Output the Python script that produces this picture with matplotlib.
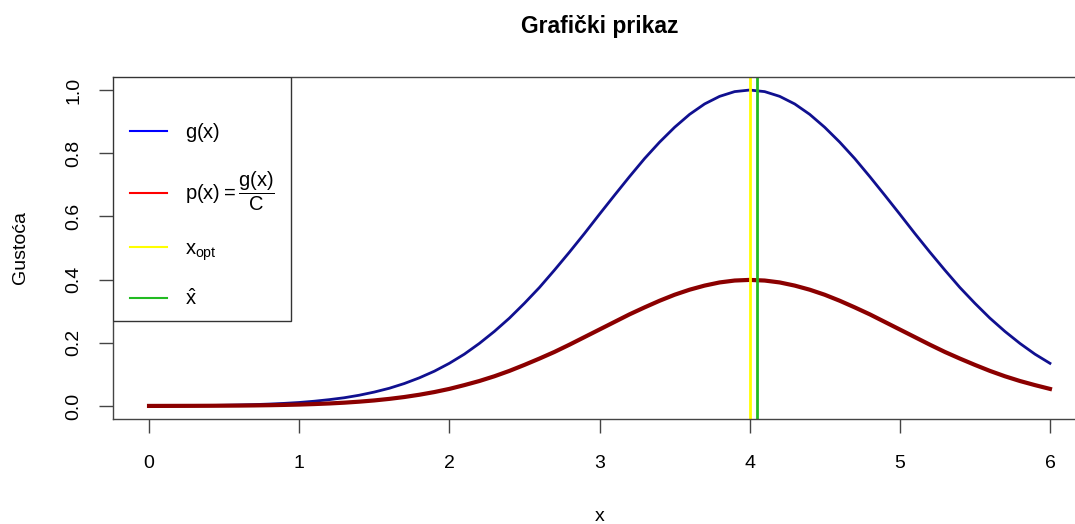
import matplotlib
matplotlib.use("Agg")
import matplotlib.pyplot as plt
from matplotlib.lines import Line2D
from matplotlib.patches import Rectangle

plt.rcParams['font.family'] = ['Liberation Sans', 'DejaVu Sans']
plt.rcParams['mathtext.fontset'] = 'custom'
plt.rcParams['mathtext.rm'] = 'Liberation Sans'
plt.rcParams['mathtext.it'] = 'Liberation Sans'
plt.rcParams['mathtext.bf'] = 'Liberation Sans:bold'

# data
x_vals = [0.0, 0.1, 0.2, 0.3, 0.4, 0.5, 0.6, 0.7, 0.8, 0.9,
          1.0, 1.1, 1.2, 1.3, 1.4, 1.5, 1.6, 1.7, 1.8, 1.9,
          2.0, 2.1, 2.2, 2.3, 2.4, 2.5, 2.6, 2.7, 2.8, 2.9,
          3.0, 3.1, 3.2, 3.3, 3.4, 3.5, 3.6, 3.7, 3.8, 3.9,
          4.0, 4.1, 4.2, 4.3, 4.4, 4.5, 4.6, 4.7, 4.8, 4.9,
          5.0, 5.1, 5.2, 5.3, 5.4, 5.5, 5.6, 5.7, 5.8, 5.9, 6.0]
g_vals = [0.0003, 0.0005, 0.0007, 0.0011, 0.0015, 0.0022, 0.0031, 0.0043, 0.0060, 0.0082,
          0.011, 0.015, 0.020, 0.026, 0.034, 0.044, 0.056, 0.071, 0.089, 0.110,
          0.135, 0.164, 0.198, 0.236, 0.278, 0.325, 0.375, 0.430, 0.487, 0.546,
          0.607, 0.667, 0.726, 0.783, 0.835, 0.882, 0.923, 0.956, 0.980, 0.995,
          1.000, 0.995, 0.980, 0.956, 0.923, 0.882, 0.835, 0.783, 0.726, 0.667,
          0.607, 0.546, 0.487, 0.430, 0.375, 0.325, 0.278, 0.236, 0.198, 0.164, 0.135]
p_vals = [0.0001, 0.0002, 0.0003, 0.0004, 0.0006, 0.0009, 0.0012, 0.0017, 0.0024, 0.0033,
          0.0044, 0.0060, 0.0079, 0.0104, 0.0136, 0.0175, 0.0224, 0.0283, 0.0355, 0.0440,
          0.054, 0.066, 0.079, 0.094, 0.111, 0.130, 0.150, 0.171, 0.194, 0.218,
          0.242, 0.266, 0.290, 0.312, 0.333, 0.352, 0.368, 0.381, 0.391, 0.397,
          0.399, 0.397, 0.391, 0.381, 0.368, 0.352, 0.333, 0.312, 0.290, 0.266,
          0.242, 0.218, 0.194, 0.171, 0.150, 0.130, 0.111, 0.094, 0.079, 0.066, 0.054]
x_opt = 4.0
x_hat = 4.05
x_ticks = [0, 1, 2, 3, 4, 5, 6]
y_ticks = [0.0, 0.2, 0.4, 0.6, 0.8, 1.0]
legend_labels = [r'$g(x)$', r'$p(x) = \dfrac{g(x)}{C}$', r'$x_{opt}$', r'$\hat{x}$']

fig = plt.figure(figsize=(10.75, 5.24), dpi=100)
ax_left, ax_right, ax_top, ax_bot = 113, 1086, 77.4, 418.6
ax = fig.add_axes([ax_left/1075, 1 - ax_bot/524, (ax_right - ax_left)/1075, (ax_bot - ax_top)/524])

ax.plot(x_vals, g_vals, color='#101090', lw=2.0)
ax.plot(x_vals, p_vals, color='#8B0000', lw=3.0)
ax.axvline(x_opt, color='#FFFF00', lw=2.0)
ax.axvline(x_hat, color='#22BB22', lw=2.0)

ax.set_xlim(-0.24, 6.24)
ax.set_ylim(-0.04, 1.04)
ax.set_xticks(x_ticks)
ax.set_xticklabels([str(t) for t in x_ticks])
ax.set_yticks(y_ticks)
ax.set_yticklabels([f'{t:.1f}' for t in y_ticks], rotation=90, va='center')
ax.tick_params(axis='both', length=10, width=1.0, color='#444444', labelsize=14)
ax.tick_params(axis='x', pad=16)
ax.tick_params(axis='y', pad=12)
for s in ax.spines.values():
    s.set_color('#444444')
    s.set_linewidth(1.0)

ax.set_title('Grafički prikaz', fontsize=16.5, fontweight='bold', pad=32)
ax.set_xlabel('x', fontsize=14, labelpad=26)
ax.set_ylabel('Gustoća', fontsize=14, labelpad=26)

# legend frame (R-style box in the top-left corner)
W = ax_right - ax_left
H = ax_bot - ax_top
fw = (291 - ax_left) / W
fy0 = (ax_bot - 321) / H
ax.add_patch(Rectangle((0.0, fy0), fw, 1 - fy0, transform=ax.transAxes,
                       fill=True, facecolor='white', edgecolor='#333333', lw=1.0, zorder=5))

handles = [Line2D([], [], color='#0000FF', lw=1.5),
           Line2D([], [], color='#FF0000', lw=1.5),
           Line2D([], [], color='#FFFF00', lw=1.5),
           Line2D([], [], color='#22BB22', lw=1.5)]
leg = ax.legend(handles, legend_labels, loc='center left',
                bbox_to_anchor=((130 - ax_left) / W, (ax_bot - 215) / H),
                borderaxespad=0, borderpad=0, frameon=False,
                fontsize=14.5, handlelength=1.85, handletextpad=0.9, labelspacing=1.3)
leg.set_zorder(6)

fig.savefig('out.png', dpi=100)
